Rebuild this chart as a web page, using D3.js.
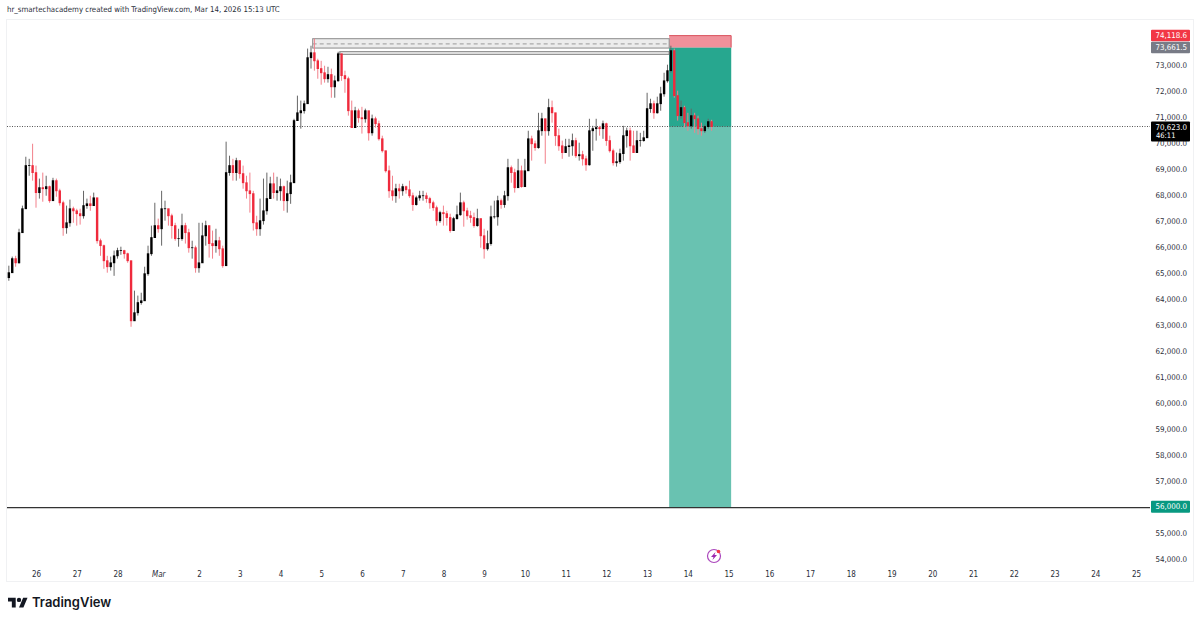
<!DOCTYPE html>
<html><head><meta charset="utf-8">
<style>html,body{margin:0;padding:0;background:#fff}svg{display:block}text{font-family:"DejaVu Sans Condensed","Liberation Sans",sans-serif}</style>
<script src="https://cdn.jsdelivr.net/npm/d3@7"></script></head>
<body><svg id="c" width="1200" height="622"></svg>
<script>
const closes=[65000,65540,65380,66540,67460,69120,69120,68850,68080,68270,68230,68310,67770,68540,68150,67690,66730,66920,67460,67380,67270,67190,67580,67650,67580,67880,66230,66040,65460,65230,65380,65650,65850,65850,65730,65460,63150,63460,63850,63920,64960,65730,66350,66810,66690,67460,67460,67190,66810,66310,66310,66810,66540,65960,65960,65190,65380,66420,66810,66120,66040,66230,65920,65270,68850,69120,68850,69310,68810,68460,68150,68040,66920,66690,67000,67380,67850,68420,68080,68150,68310,67770,68040,68460,70850,71150,71230,71500,73270,73460,73150,72850,72690,72460,72620,72150,72380,73420,72580,72460,71230,70580,71230,70960,70920,71230,70380,70920,70730,70150,69690,68920,68150,67960,68230,68150,68310,68190,67960,67620,67880,67960,67960,67850,67690,67500,67000,67310,67270,67120,66620,67080,67230,67690,67380,67190,67120,66810,67080,66420,65920,66120,67150,67150,67770,67620,67960,69040,68850,68270,68920,68310,68920,70150,69960,69810,70460,70920,70460,71350,71150,70270,69880,69620,69850,69880,70080,69500,69540,69380,69150,70460,70540,70580,70540,70730,70080,69690,69230,69270,69580,70270,70460,69880,69620,70080,70080,70190,71310,71500,71150,71500,71880,72380,72770,73540,71810,71040,71350,70770,70650,71040,70920,70540,70460,70620,70810,70623];
const highs=[65270,65620,65650,66690,67580,69460,69380,69960,69120,68620,68850,68730,68350,68650,68620,68230,67770,67580,67810,67540,67460,67460,68150,67850,67960,68080,67880,66310,66080,65650,65620,65850,65960,66000,65880,65770,65460,64310,64120,64230,65230,66040,66810,67690,67080,68150,67770,67460,67270,66920,66690,67270,66920,66690,66230,66040,66920,66920,67000,66770,66620,66690,66380,66040,70040,69500,69380,69420,69310,69120,68730,68850,68150,67190,67850,68620,68850,68690,68850,68690,68620,68350,68540,68770,70920,71810,71620,71620,73620,73730,74000,73230,73150,72960,72920,72850,72580,73500,73420,72770,72540,71620,71380,71310,71380,71310,71150,71080,71000,70850,70270,69690,69120,68730,68420,68420,68420,68350,68540,68080,67960,68150,68150,68080,67920,67770,67580,67380,67580,67380,67270,67150,67580,68080,67770,67500,67380,67310,67460,67080,66690,66620,67580,67770,67960,67850,68150,69380,69120,69000,69380,69120,69380,70460,70270,70080,71150,71150,70920,71690,71620,71150,70540,70080,70150,70150,70350,70190,70000,69690,69500,70920,70650,70920,70650,70850,70770,70270,69770,69620,69770,70650,70580,70580,70460,70460,70380,70460,71920,71690,71620,71770,72150,72690,73000,73730,73620,72000,71620,71420,71150,71310,71150,71040,70770,70690,70920,70880];
const lows=[64690,65000,65230,65350,66540,67460,68730,68540,67500,67850,67730,67960,67690,67770,67920,67580,66420,66500,66770,66920,66810,66850,67080,67460,67380,67580,66120,65650,65150,65000,65080,64880,65540,65690,65540,65380,62920,63150,63350,63770,64310,64880,65650,66620,66540,66040,67000,66810,66310,66230,66000,66230,66120,65770,65540,65000,65000,65850,66040,65580,65540,65770,65650,65190,65270,68730,68540,68540,68620,68230,67850,67310,66620,66420,66420,66850,67230,67880,67850,67770,67770,67380,67310,67650,68460,70920,70540,71120,71500,72850,72770,72460,72230,72310,72310,71730,71730,72350,72380,71920,71040,70580,70650,70770,70350,70770,70080,70270,70580,70080,69620,68850,67880,67770,67690,67850,67960,68040,67880,67380,67580,67770,67770,67690,67460,67380,66810,66920,66810,66810,66540,66920,67040,67190,66770,67040,66920,66730,66770,65960,65540,65850,66040,67080,66810,67460,67500,67770,68460,68080,68310,68270,68310,68920,69310,69690,69770,70270,69190,70270,70770,69880,69690,69380,69620,69460,69500,69420,69310,69120,68920,69120,69690,70080,70270,70150,69880,69620,69120,69080,69190,69310,69810,69310,69620,69770,69850,70040,70190,71150,70920,71120,71230,71770,72310,72690,71730,70850,70920,70580,70460,70540,70380,70310,70270,70380,70540,70460];
const firstOpen=64810;
const priceTicks=[73000,72000,71000,70000,69000,68000,67000,66000,65000,64000,63000,62000,61000,60000,59000,58000,57000,55000,54000];
const entryPrice=73661.5, stopPrice=74118.6, targetPrice=56000, lastPrice=70623;
const zoneHigh=74000, zoneMid=73800, zoneLow=73640, zone2High=73500, zone2Low=73400;
const startTime=Date.UTC(2026,1,25,8), stepMs=2*3600*1000;
const times=closes.map((_,i)=>new Date(startTime+i*stepMs));
const zoneStart=new Date(Date.UTC(2026,2,4,19)), zone2Start=new Date(Date.UTC(2026,2,5,11));
const posStart=new Date(Date.UTC(2026,2,13,13)), posEnd=new Date(Date.UTC(2026,2,15,1,30));

const svg=d3.select("#c");
const x=d3.scaleUtc().domain([new Date(Date.UTC(2026,1,26)),new Date(Date.UTC(2026,2,25))]).range([36,1136]);
const y=d3.scaleLinear().domain([73000,54000]).range([64.7,558.7]);
const L=7,R=1150,T=19,B=581;
const FONT='"DejaVu Sans Condensed","Liberation Sans",sans-serif';

svg.append("rect").attr("x",6.5).attr("y",T+.5).attr("width",1187).attr("height",B-T).attr("fill","#fff").attr("stroke","#f0f1f3");

const px=d=>x(d);
const p0=px(posStart),p1=px(posEnd);
svg.append("rect").attr("x",p0).attr("width",p1-p0).attr("y",y(entryPrice)).attr("height",y(targetPrice)-y(entryPrice)+1).attr("fill","#69c2b1");
svg.append("rect").attr("x",p0).attr("width",p1-p0).attr("y",y(entryPrice)).attr("height",y(lastPrice)-y(entryPrice)).attr("fill","#27a78f");
svg.append("rect").attr("x",p0).attr("width",p1-p0).attr("y",y(stopPrice)).attr("height",y(entryPrice)-y(stopPrice)).attr("fill","#f0919b");
svg.append("path").attr("d",`M${p0},${y(stopPrice)}H${p1}V${y(entryPrice)}`).attr("fill","none").attr("stroke","#d9505c").attr("stroke-width",1);

const zx=px(zoneStart),z2=px(zone2Start);
svg.append("rect").attr("x",zx).attr("width",p0-zx).attr("y",y(zoneHigh)).attr("height",y(zoneLow)-y(zoneHigh)).attr("fill","#ececec").attr("stroke","#8a8a8a").attr("stroke-width",1);
svg.append("line").attr("x1",zx).attr("x2",p0).attr("y1",y(zoneMid)).attr("y2",y(zoneMid)).attr("stroke","#9a9a9a").attr("stroke-dasharray","4 3");
svg.append("rect").attr("x",z2).attr("width",p0-z2).attr("y",y(zone2High)).attr("height",y(zone2Low)-y(zone2High)).attr("fill","#fff").attr("stroke","#8a8a8a").attr("stroke-width",1.2);

svg.append("line").attr("x1",L).attr("x2",R).attr("y1",y(lastPrice)).attr("y2",y(lastPrice)).attr("stroke","#555").attr("stroke-dasharray","1 1.5");
svg.append("line").attr("x1",L).attr("x2",R).attr("y1",y(targetPrice)+1).attr("y2",y(targetPrice)+1).attr("stroke","#333").attr("stroke-width",1.2);

const opens=closes.map((c,i)=>i?closes[i-1]:firstOpen);
const up="#000000",down="#ef2a3c";
const g=svg.append("g");
g.selectAll("line").data(closes).join("line")
 .attr("x1",(c,i)=>px(times[i])).attr("x2",(c,i)=>px(times[i]))
 .attr("y1",(c,i)=>y(highs[i])).attr("y2",(c,i)=>y(lows[i]))
 .attr("stroke",(c,i)=>c>=opens[i]?"#666":"#f2808b").attr("stroke-width",1);
g.selectAll("rect").data(closes).join("rect")
 .attr("x",(c,i)=>px(times[i])-1.2).attr("width",2.4)
 .attr("y",(c,i)=>y(Math.max(c,opens[i]))-.4)
 .attr("height",(c,i)=>Math.abs(y(c)-y(opens[i]))+.8)
 .attr("fill",(c,i)=>c>=opens[i]?up:down);

const fmt=d3.format(",.1f");
const ay=d3.axisRight(y).tickValues(priceTicks).tickSize(0).tickPadding(0).tickFormat(fmt);
const gy=svg.append("g").attr("transform","translate(1187,0)").call(ay);
gy.select(".domain").remove();
gy.selectAll("text").attr("text-anchor","end").attr("x",0).attr("fill","#2a2e39").style("font-family",FONT).style("font-size","7.9px");

const dayTicks=d3.utcDay.range(new Date(Date.UTC(2026,1,26)),new Date(Date.UTC(2026,2,26)));
const ax=d3.axisBottom(x).tickValues(dayTicks).tickSize(0).tickPadding(0)
 .tickFormat(d=>d.getUTCDate()===1?"Mar":String(d.getUTCDate()));
const gx=svg.append("g").attr("transform","translate(0,571)").call(ax);
gx.select(".domain").remove();
gx.selectAll("text").attr("fill","#2a2e39").style("font-family",FONT).style("font-size","8px");
gx.selectAll("text").filter(d=>d.getUTCDate()===1).style("font-style","italic");

function tag(v,txt,fill,h,sub){
  const cy=y(v), top=sub?cy-5:cy-h/2;
  svg.append("rect").attr("x",1151).attr("y",top).attr("width",39).attr("height",h).attr("fill",fill).attr("rx",1);
  svg.append("text").attr("x",1187).attr("y",top+8.6).attr("text-anchor","end").attr("fill","#fff").style("font-size","7.9px").text(txt);
  if(sub) svg.append("text").attr("x",1156).attr("y",top+16).attr("fill","#fff").style("font-size","7.5px").text(sub);
}
tag(stopPrice,fmt(stopPrice),"#f23645",11.5);
tag(entryPrice,fmt(entryPrice),"#787b86",11.5);
tag(lastPrice,fmt(lastPrice),"#000",20,"46:11");
tag(targetPrice,fmt(targetPrice),"#089981",12);

svg.append("text").attr("x",7).attr("y",12).attr("fill","#2a2e39").style("font-size","7.8px").text("hr_smartechacademy created with TradingView.com, Mar 14, 2026 15:13 UTC");

const logo=svg.append("g").attr("transform","translate(8,595.5) scale(.55)").attr("fill","#131722");
logo.append("path").attr("d","M14 22H7V11H0V4h14v18zM28 22h-8l7.5-18h8L28 22z");
logo.append("circle").attr("cx",20).attr("cy",8).attr("r",4);
svg.append("text").attr("x",32).attr("y",607).attr("fill","#131722").style("font-family","Inter,sans-serif").style("font-weight",600).style("font-size","13px").text("TradingView");

const b=svg.append("g").attr("transform","translate(714,556)");
b.append("circle").attr("r",6.5).attr("fill","#fff").attr("stroke","#ab47bc").attr("stroke-width",1.2);
b.append("path").attr("d","M1.5,-4 L-3,1 L-0.5,1 L-1.5,4 L3,-1 L0.5,-1 Z").attr("fill","#9c27b0");
b.append("circle").attr("cx",4.5).attr("cy",-4.5).attr("r",1.8).attr("fill","#f23645");
</script></body></html>
